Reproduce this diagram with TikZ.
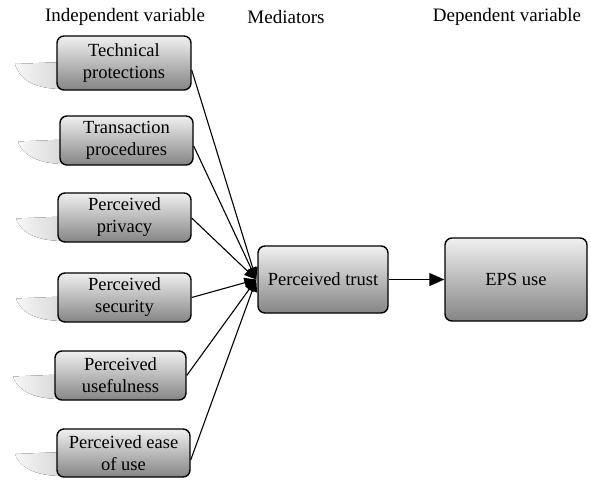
\documentclass[tikz,border=0pt]{standalone}
\usepackage{fontspec}
\setmainfont{Liberation Serif}
\newfontfamily\tnr{Liberation Serif}
\usetikzlibrary{arrows.meta,calc}
\tikzset{
  varbox/.style={draw=black, line width=1.4pt, rounded corners=7pt,
    top color=white!94!black, bottom color=white!52!black,
    align=center, inner sep=0pt, font=\tnr\fontsize{18.5}{22}\selectfont},
  hdr/.style={font=\tnr\fontsize{19}{22}\selectfont, inner sep=0pt},
  shade/.style={draw=none, left color=white!97!black, right color=white!84!black},
  link/.style={line width=1.1pt, -{Triangle[length=12pt,width=10pt]}}
}
\begin{document}
\begin{tikzpicture}[x=1pt,y=-1pt]
\useasboundingbox (0,0) rectangle (591,480);
% shadows
\foreach \L/\T/\B in {57/36/90, 60/116/165, 58/193/242, 58/273/322, 55/351/400, 57/429/477}{
  \pgfmathsetmacro{\M}{(\T+\B)/2}
  \fill[shade] (\L+6,\M-1) -- (\L-42,\M+1) .. controls (\L-36,\B-6) and (\L-15,\B-1) .. (\L+6,\B-1) -- cycle;
}
\node[hdr] (h1) at (125,17) {Independent variable};
\node[hdr] (h2) at (286,17) {Mediators};
\node[hdr] (h3) at (507,17) {Dependent variable};
\node[varbox, minimum width=134pt, minimum height=54pt] (b1) at (124,63) {Technical\\protections};
\node[varbox, minimum width=133pt, minimum height=49pt] (b2) at (126.5,140.5) {Transaction\\procedures};
\node[varbox, minimum width=133pt, minimum height=49pt] (b3) at (124.5,217.5) {Perceived\\privacy};
\node[varbox, minimum width=133pt, minimum height=49pt] (b4) at (124.5,297.5) {Perceived\\security};
\node[varbox, minimum width=131pt, minimum height=49pt] (b5) at (120.5,375.5) {Perceived\\usefulness};
\node[varbox, minimum width=133pt, minimum height=48pt] (b6) at (123.5,453) {Perceived ease\\of use};
\node[varbox, minimum width=130pt, minimum height=67pt] (pt) at (323,279.5) {Perceived trust};
\node[varbox, minimum width=142pt, minimum height=83pt] (eps) at (516,279.5) {EPS use};
\coordinate (conv) at ($(pt.west)+(-1,0)$);
\draw[link] ($(b1.east)+(0,7)$) -- (conv);
\draw[link] ($(b2.east)+(0,5.5)$) -- (conv);
\draw[link] ($(b3.east)+(0,0.5)$) -- (conv);
\draw[link] (b4.east) -- (conv);
\draw[link] (b5.east) -- (conv);
\draw[link] ($(b6.east)+(0,7)$) -- (conv);
\draw[link, -{Triangle[length=15pt,width=13pt]}] (pt.east) -- (eps.west);
\end{tikzpicture}
\end{document}
